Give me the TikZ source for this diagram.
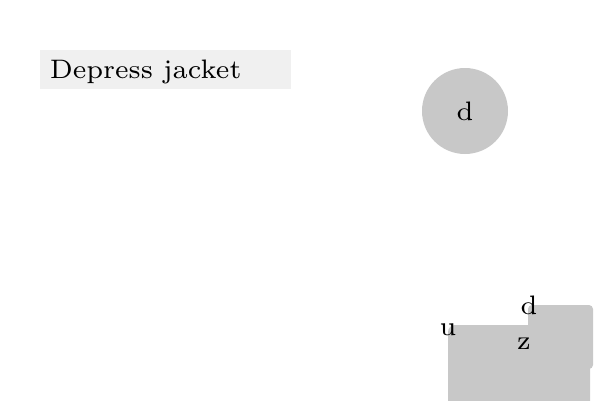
\documentclass[tikz,border=0pt]{standalone}
\definecolor{shapegray}{HTML}{C8C8C8}
\definecolor{titlegray}{HTML}{F0F0F0}
\tikzset{
  lbl/.style={inner sep=0pt, font=\fontsize{7}{8.4}\selectfont, scale=3.82, text=black},
  blob/.style={fill=shapegray, draw=none},
}
\begin{document}
\begin{tikzpicture}[x=1pt,y=-1pt]
\useasboundingbox (0,0) rectangle (600,400);
\begin{scope}
\clip (0,0) rectangle (600,400);
\fill[titlegray] (40,50) rectangle (291,89);
\node[lbl, anchor=base west] (title) at (49,78) {Depress jacket};
\node[blob, circle, minimum size=86pt, inner sep=0pt] (circ) at (465,111) {};
\node[lbl] (cd) at (circ) {d};
\fill[blob, rounded corners=7pt] (448,325) rectangle (590,410);
\fill[blob, rounded corners=4pt] (528,305) rectangle (593,369);
\node[lbl, anchor=base] (u) at (448,335) {u};
\node[lbl, anchor=base] (d2) at (529,314) {d};
\node[lbl, anchor=base] (z) at (524,349) {z};
\end{scope}
\end{tikzpicture}
\end{document}
